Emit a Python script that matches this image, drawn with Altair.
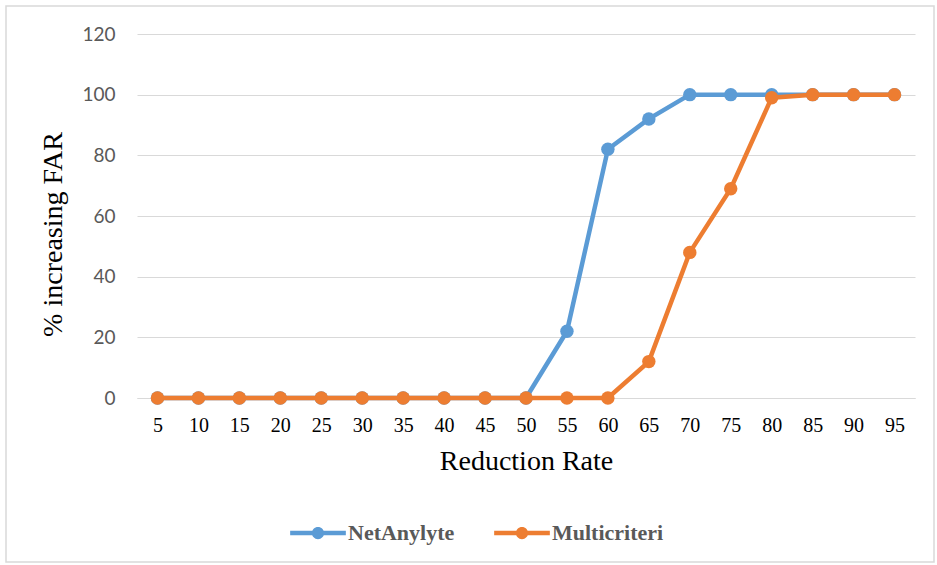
import altair as alt
import pandas as pd

rates = [5, 10, 15, 20, 25, 30, 35, 40, 45, 50, 55, 60, 65, 70, 75, 80, 85, 90, 95]
net_anylyte = [0, 0, 0, 0, 0, 0, 0, 0, 0, 0, 22, 82, 92, 100, 100, 100, 100, 100, 100]
multicriteri = [0, 0, 0, 0, 0, 0, 0, 0, 0, 0, 0, 0, 12, 48, 69, 99, 100, 100, 100]
series_names = ["NetAnylyte", "Multicriteri"]
colors = ["#5B9BD5", "#ED7D31"]

rows = []
for i, r in enumerate(rates):
    rows.append({"rate": str(r), "value": net_anylyte[i], "series": series_names[0], "order": 0})
for i, r in enumerate(rates):
    rows.append({"rate": str(r), "value": multicriteri[i], "series": series_names[1], "order": 1})
df = pd.DataFrame(rows)

sym = ("M-1,-0.08 L1,-0.08 L1,0.08 L-1,0.08 Z "
       "M-0.22,0 A0.22,0.22 0 1,1 0.22,0 A0.22,0.22 0 1,1 -0.22,0 Z")

x_enc = alt.X("rate:N", sort=[str(r) for r in rates],
              scale=alt.Scale(type="point", padding=0.5),
              axis=alt.Axis(title="Reduction Rate", labelAngle=0, labelFont="Liberation Serif",
                            labelFontSize=20, labelColor="#000000", labelPadding=17,
                            ticks=False, domain=True, domainColor="#D9D9D9", grid=False,
                            titleFont="Liberation Serif", titleFontSize=28, titleFontWeight="normal",
                            titleColor="#000000", titlePadding=12))
y_enc = alt.Y("value:Q", scale=alt.Scale(domain=[0, 120]),
              axis=alt.Axis(title="% increasing FAR", values=[0, 20, 40, 60, 80, 100, 120],
                            labelFont="Lato", labelFontSize=19, labelColor="#595959",
                            labelPadding=22, ticks=False, domain=False, grid=True,
                            gridColor="#D9D9D9", gridWidth=1.2,
                            titleFont="Liberation Serif", titleFontSize=28, titleFontWeight="normal",
                            titleColor="#000000", titleX=-70, titleY=200))
color_enc = alt.Color("series:N", scale=alt.Scale(domain=series_names, range=colors),
                      legend=alt.Legend(title=None, orient="none", direction="horizontal",
                                        legendX=153, legendY=471, symbolType=sym,
                                        symbolSize=3100, symbolStrokeWidth=0, symbolOpacity=1,
                                        labelFont="Liberation Serif", labelFontSize=22,
                                        labelFontWeight="bold", labelColor="#595959",
                                        columnPadding=39, labelOffset=2, labelLimit=300))

base = alt.Chart(df)
lines = base.mark_line(strokeWidth=4.5).encode(x=x_enc, y=y_enc, color=color_enc,
                                               detail="series:N", order="order:Q")
points = base.mark_circle(size=180, opacity=1).encode(x=x_enc, y=y_enc, color=color_enc,
                                                       order="order:Q")

border = alt.Chart(pd.DataFrame({"a": [0]})).mark_rect(
    fill=None, stroke="#D9D9D9", strokeWidth=1.5).encode(
    x=alt.value(-131), x2=alt.value(797), y=alt.value(-28), y2=alt.value(528))

chart = alt.layer(border, lines.transform_filter("datum.series == 'NetAnylyte'"),
                  points.transform_filter("datum.series == 'NetAnylyte'"),
                  lines.transform_filter("datum.series == 'Multicriteri'"),
                  points.transform_filter("datum.series == 'Multicriteri'")).properties(
    width=778, height=364,
    autosize=alt.AutoSizeParams(type="none"),
    padding={"left": 137, "top": 34, "right": 22, "bottom": 167},
    background="white"
).configure_view(stroke=None)

chart.save("out.html", embed_options={"renderer": "svg", "actions": False})
